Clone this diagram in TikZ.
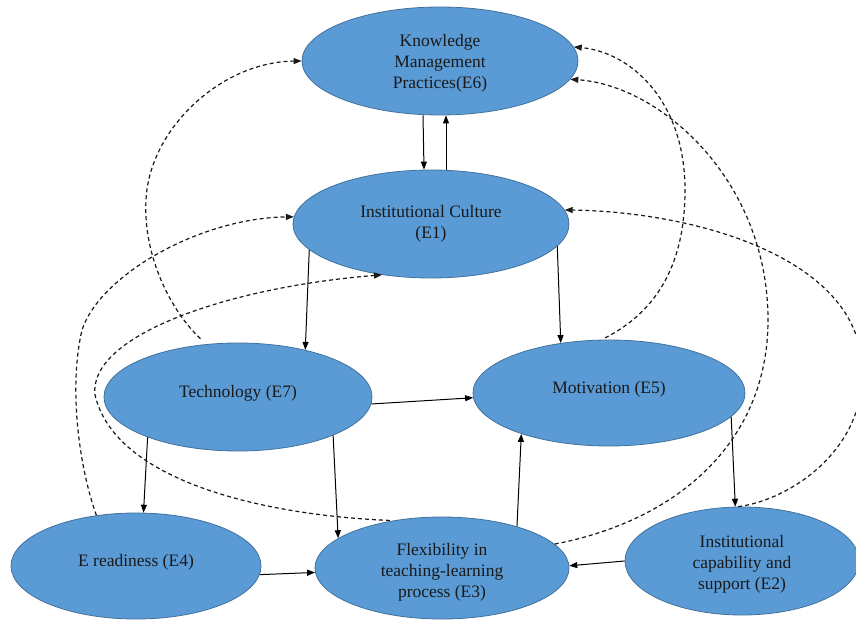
\documentclass[tikz,border=0pt]{standalone}
\usepackage{fontspec}
\setmainfont{Liberation Serif}
\usetikzlibrary{shapes.geometric,arrows.meta}
\definecolor{ellfill}{RGB}{91,155,213}
\definecolor{elldraw}{RGB}{65,113,156}
\newcommand{\topstrut}[1]{\rule{0pt}{#1}}
\begin{document}
\begin{tikzpicture}[x=1pt,y=-1pt,
  ell/.style={ellipse, draw=elldraw, line width=0.8pt, fill=ellfill, inner sep=0pt,
    align=center, font=\fontsize{17.5}{21}\selectfont\rmfamily, text=black!90},
  one/.style={text height=10pt, text depth=10pt},
  arr/.style={-{Triangle[length=8pt,width=6pt]}, line width=1pt, black},
  dsh/.style={-{Triangle[length=8pt,width=6pt]}, line width=1.2pt, dash pattern=on 4pt off 3pt, black!90}]
\useasboundingbox (0,0) rectangle (856,620);
\clip (0,0) rectangle (856,620);
\fill[white] (0,0) rectangle (856,620);
% nodes
\node[ell, minimum width=276pt, minimum height=108pt] (E6) at (440,61) {\topstrut{17pt}Knowledge\\Management\\Practices(E6)};
\node[ell, minimum width=276pt, minimum height=108pt] (E1) at (431,224) {Institutional Culture\\(E1)};
\node[ell, one, minimum width=268pt, minimum height=108pt] (E7) at (238,397) {Technology (E7)};
\node[ell, one, minimum width=272pt, minimum height=106pt] (E5) at (609,393) {Motivation (E5)};
\node[ell, one, minimum width=250pt, minimum height=106pt] (E4) at (136,566) {E readiness (E4)};
\node[ell, minimum width=254pt, minimum height=102pt] (E3) at (442,568) {\topstrut{20pt}Flexibility in\\teaching-learning\\process (E3)};
\node[ell, minimum width=234pt, minimum height=108pt] (E2) at (742,561) {\topstrut{18pt}Institutional\\capability and\\support (E2)};
% solid arrows
\draw[arr] ([xshift=-17pt]E6.south) -- ([xshift=-7pt]E1.north);
\draw[arr] ([xshift=15pt]E1.north) -- ([xshift=6pt]E6.south);
\draw[arr] (E1.192) -- (E7.35);
\draw[arr] (E1.-10) -- (E5.134);
\draw[arr] (E7.-3) -- (E5.182);
\draw[arr] (E7.204) -- (E4.82);
\draw[arr] (E7.-22) -- (E3.164);
\draw[arr] (E4.-4) -- (E3.182);
\draw[arr] (E3.29) -- (E5.205);
\draw[arr] (E5.-11) -- (E2.97);
\draw[arr] (E2.180) -- (E3.1);
% dashed feedback curves
\draw[dsh, shorten <=8pt] (E7.121) .. controls (170,310) and (143,255) .. (146,200)
   .. controls (149,130) and (220,62) .. (E6.180);
\draw[dsh] (E4.128) .. controls (80,470) and (68,390) .. (82,330)
   .. controls (100,275) and (200,218) .. (E1.177);
\draw[dsh, shorten <=3pt] (E3.136) .. controls (260,515) and (115,480) .. (95,395)
   .. controls (88,335) and (230,287) .. (E1.-134);
\draw[dsh, shorten <=4pt] (E5.98) .. controls (660,310) and (685,260) .. (685,190)
   .. controls (685,100) and (630,52) .. (E6.6);
\draw[dsh] (E2.94) .. controls (790,500) and (865,450) .. (862,370)
   .. controls (862,260) and (700,212) .. (E1.6);
\draw[dsh] (E3.12) .. controls (680,520) and (768,440) .. (768,320)
   .. controls (768,180) and (660,85) .. (E6.-8);
\end{tikzpicture}
\end{document}
